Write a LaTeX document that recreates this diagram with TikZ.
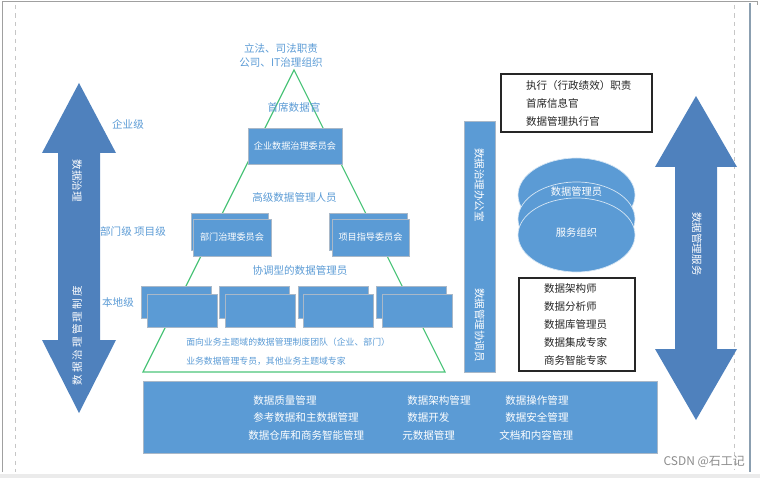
\documentclass[tikz,border=0pt]{standalone}
\usepackage{fontspec}
\setmainfont{Noto Sans CJK SC}
\usetikzlibrary{shapes.geometric, positioning}
\definecolor{boxblue}{HTML}{5B9BD5}
\definecolor{arrblue}{HTML}{4F81BD}
\definecolor{lblue}{HTML}{5B9BD5}
\definecolor{boxline}{HTML}{A9B8C8}
\definecolor{trigreen}{HTML}{4CC47A}
\definecolor{inkgray}{HTML}{262626}
\definecolor{framegray}{HTML}{A0A0A0}

\begin{document}
\begin{tikzpicture}[
  x=0.25mm, y=-0.25mm,
  blubox/.style={
    draw=boxline, line width=0.5pt, fill=boxblue, text=white,
    font=\fontsize{6.5}{8}\selectfont, inner sep=1pt
  },
  backbox/.style={blubox, minimum width=17.5mm, minimum height=8mm},
  frontbox/.style={blubox, minimum width=17.5mm, minimum height=8.25mm},
  ellbox/.style={
    ellipse, draw=white!75!boxblue, line width=0.5pt, fill=boxblue,
    minimum width=29.25mm, minimum height=18.5mm, inner sep=0pt
  },
  blkbox/.style={
    draw=inkgray, line width=0.8pt, fill=white, text=inkgray,
    font=\fontsize{7.5}{12.8}\selectfont, align=left, inner xsep=6.25mm
  },
  lbl/.style={text=lblue, font=\fontsize{7.5}{10}\selectfont, inner sep=0pt},
  team/.style={text=lblue, font=\fontsize{6.3}{8}\selectfont, inner sep=0pt, anchor=west},
  wtxt/.style={text=white, font=\fontsize{7.5}{9}\selectfont, inner sep=0pt},
  func/.style={wtxt, anchor=west},
  arr/.style={fill=arrblue},
]
\useasboundingbox (0,0) rectangle (760,478);

% Frame
\draw[framegray, line width=0.6pt] (2,472) -- (2,1.5) -- (757,1.5) -- (757,5);
\draw[framegray!60, dashed, line width=0.6pt] (15,5) -- (15,472);
\draw[framegray!60, dashed, line width=0.6pt] (734,5) -- (734,470);
\draw[framegray!70!boxblue, line width=0.8pt] (750,3) -- (750,472);
\fill[black!8] (0,474) rectangle (760,478);

% Left double arrow
\fill[arr] (79,83) -- (116,153) -- (100,153) -- (100,340) -- (116,340)
  -- (79,413) -- (42,340) -- (58,340) -- (58,153) -- (42,153) -- cycle;
\node[wtxt, rotate=-90] (govern) at (77,181) {数据治理};
\node[wtxt, rotate=90] (policy) at (77,336)
  {\addfontfeature{LetterSpace=20}数据治理管理制度};

% Level labels
\node[lbl] (entlvl) at (128,124) {企业级};
\node[lbl] (deptlvl) at (133,231) {部门级 项目级};
\node[lbl] (loclvl) at (118,302) {本地级};

% Pyramid
\coordinate (apex) at (294,70);
\coordinate (baseL) at (143,372);
\coordinate (baseR) at (445,372);
\draw[trigreen, line width=0.8pt] (apex) -- (baseL) -- (baseR) -- cycle;

\node[lbl, align=center] (legal) at (281,55) {立法、司法职责\\公司、IT治理组织};
\node[lbl] (cdo) at (294,107) {首席数据官};

\node[blubox, minimum width=23.5mm, minimum height=9mm] (entcom) at (295,146)
  {企业数据治理委员会};

\node[lbl] (senior) at (294.5,197) {高级数据管理人员};

\node[backbox, minimum width=19.25mm, minimum height=9.25mm] (deptback) at (229.5,231.5) {};
\node[frontbox, minimum width=19.5mm, minimum height=9.25mm] (dept) at (232,237.5) {部门治理委员会};
\node[backbox, minimum width=19.5mm, minimum height=9.25mm] (projback) at (368,231.5) {};
\node[frontbox, minimum width=19.25mm, minimum height=9.25mm] (proj) at (370.5,237.5) {项目指导委员会};

\node[lbl] (coord) at (300,270) {协调型的数据管理员};

\foreach \i in {0,...,3} {
  \node[backbox] (lb\i) at (176.5+78.3*\i,302) {};
  \node[frontbox] (lf\i) at (182+78.3*\i,310.5) {};
}

\node[team] (team1) at (186,342) {面向业务主题域的数据管理制度团队（企业、部门）};
\node[team] (team2) at (186,361) {业务数据管理专员，其他业务主题域专家};

% Functions
\node[blubox, minimum width=128.5mm, minimum height=18mm] (funcs) at (400,417) {};
\node[func] (f1) at (253,400) {数据质量管理};
\node[func] (f2) at (253,417) {参考数据和主数据管理};
\node[func] (f3) at (248,435) {数据仓库和商务智能管理};
\node[func] (f4) at (407,400) {数据架构管理};
\node[func] (f5) at (407,417) {数据开发};
\node[func] (f6) at (402,435) {元数据管理};
\node[func] (f7) at (505,400) {数据操作管理};
\node[func] (f8) at (505,417) {数据安全管理};
\node[func] (f9) at (499,435) {文档和内容管理};

% Office bar
\node[blubox, minimum width=7.75mm, minimum height=62.75mm] (office) at (479.5,246.5) {};
\node[wtxt, rotate=-90] (officetxt) at (479.5,185) {数据治理办公室};
\node[wtxt, rotate=-90] (coordtxt) at (479.5,325) {数据管理协调员};

% Executive box
\node[blkbox, text width=25.25mm, minimum height=14.5mm] (exec) at (576.5,103)
  {执行（行政绩效）职责\\首席信息官\\数据管理执行官};

% Stewards
\node[ellbox] (ell1) at (576.5,195) {};
\node[ellbox] (ell2) at (576.5,219) {};
\node[ellbox] (ell3) at (576.5,235) {};
\node[wtxt, font=\fontsize{7.3}{9}\selectfont] (steward) at (576.5,192) {数据管理员};
\node[wtxt, font=\fontsize{7.3}{9}\selectfont] (service) at (576.5,233) {服务组织};

% Specialists box
\node[blkbox, text width=16.5mm, minimum height=23.25mm] (spec) at (577,324.5)
  {数据架构师\\数据分析师\\数据库管理员\\数据集成专家\\商务智能专家};

% Right double arrow
\fill[arr] (696,96) -- (737,167) -- (717,167) -- (717,349) -- (737,349)
  -- (696,420) -- (655,349) -- (675,349) -- (675,167) -- (655,167) -- cycle;
\node[wtxt, rotate=-90] (dmsvc) at (697,244) {数据管理服务};

% Watermark
\node[text=black!45, font=\fontsize{8.5}{10}\selectfont, inner sep=0pt, anchor=east]
  (mark) at (745,462) {CSDN @石工记};

\end{tikzpicture}
\end{document}
